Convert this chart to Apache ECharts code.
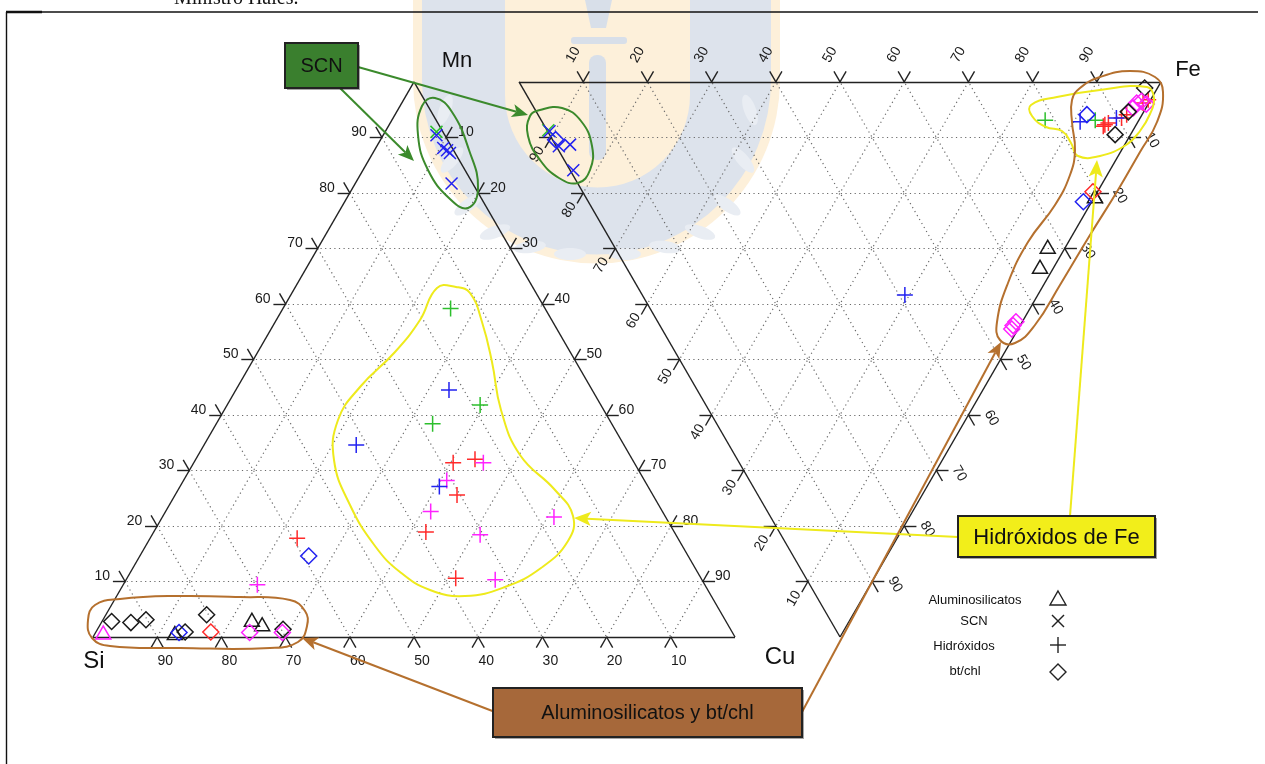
<!DOCTYPE html>
<html>
<head>
<meta charset="utf-8">
<script src="https://cdn.jsdelivr.net/npm/echarts@6/dist/echarts.min.js"></script>
<style>
  html, body { margin: 0; padding: 0; background: #fff; }
  #chart { width: 1265px; height: 764px; }
</style>
</head>
<body>
<div id="chart"></div>
<script>
const tickValues = [10, 20, 30, 40, 50, 60, 70, 80, 90];

// triangulo Si - Mn - Cu : [Si, Mn, Cu, color]
const siMnCuAlumino = [
  [98.0, 0.8, 1.2, "m"], [86.9, 0.7, 12.4, "k"], [73.7, 3.1, 23.2, "k"], [72.5, 2.3, 25.2, "k"]
];
const siMnCuSCN = [
  [1.0, 91.0, 8.0, "g"], [1.3, 90.4, 8.3, "b"], [1.4, 88.1, 10.5, "b"],
  [1.0, 87.7, 11.3, "b"], [0.8, 87.2, 12.0, "b"], [3.3, 81.7, 15.0, "b"]
];
const siMnCuHidroxidos = [
  [14.7, 59.2, 26.1, "g"], [22.3, 44.5, 33.2, "b"], [18.8, 41.8, 39.4, "g"], [27.9, 38.4, 33.7, "g"],
  [28.2, 31.4, 40.4, "r"], [24.5, 32.0, 43.5, "r"], [23.5, 31.4, 45.1, "m"], [30.8, 28.2, 41.0, "m"],
  [32.5, 27.1, 40.4, "b"], [30.5, 25.6, 43.9, "r"], [36.1, 22.6, 41.3, "m"], [38.7, 18.9, 42.4, "r"],
  [30.5, 18.4, 51.1, "m"], [17.4, 21.6, 61.0, "m"], [38.2, 10.6, 51.2, "r"], [32.2, 10.3, 57.5, "m"],
  [41.7, 34.6, 23.7, "b"], [59.3, 17.8, 22.9, "r"], [69.7, 9.4, 20.9, "m"]
];
const siMnCuBtChl = [
  [59.1, 14.6, 26.3, "b"], [95.7, 2.8, 1.5, "k"], [92.8, 2.6, 4.6, "k"], [90.2, 3.1, 6.7, "k"],
  [86.2, 0.8, 13.0, "b"], [85.2, 0.9, 13.9, "k"], [80.3, 4.0, 15.7, "k"], [81.2, 0.9, 17.9, "r"],
  [75.2, 0.8, 24.0, "m"], [69.7, 1.4, 28.9, "k"], [70.1, 0.8, 29.1, "m"]
];

// triangulo Mn - Fe - Cu : [Mn, Fe, Cu, color]
const mnFeCuAlumino = [
  [0.0, 79.4, 20.6, "k"], [2.8, 67.5, 29.7, "k"], [2.2, 64.5, 33.3, "k"]
];
const mnFeCuSCN = [
  [91.1, 0.2, 8.7, "g"], [90.8, 0.3, 8.9, "b"], [88.0, 0.4, 11.6, "b"],
  [86.4, 2.3, 11.3, "b"], [83.6, 0.5, 15.9, "b"]
];
const mnFeCuHidroxidos = [
  [0.4, 96.4, 3.2, "r"], [0.9, 95.3, 3.8, "r"], [2.4, 91.7, 5.9, "r"], [2.9, 90.6, 6.5, "r"],
  [4.5, 88.1, 7.4, "r"], [4.9, 87.4, 7.7, "r"], [5.0, 87.0, 8.0, "r"], [3.7, 89.8, 6.5, "b"],
  [9.0, 83.8, 7.2, "b"], [6.8, 86.3, 6.9, "g"], [14.6, 78.5, 6.9, "g"], [20.7, 40.9, 38.4, "b"]
];
const mnFeCuBtChl = [
  [89.1, 0.5, 10.4, "b"], [2.0, 96.9, 1.1, "k"], [1.9, 94.3, 3.8, "m"], [1.3, 95.2, 3.5, "m"],
  [2.0, 93.3, 4.7, "m"], [0.3, 95.7, 4.0, "m"], [2.4, 92.2, 5.4, "k"], [8.6, 85.5, 5.9, "b"],
  [2.4, 88.1, 9.5, "k"], [0.7, 79.5, 19.8, "r"], [1.3, 77.1, 21.6, "b"],
  [1.0, 55.8, 43.2, "m"], [1.1, 55.0, 43.9, "m"], [1.0, 54.5, 44.5, "m"]
];

const colors = { r: "#ff2a2a", m: "#ff22ff", b: "#2222f0", g: "#2dbf2d", k: "#1a1a1a" };

// geometria: vertices en unidades del eje (lado = 100)
const T1 = [[0, 0], [50, 86.6], [100, 0]];              // Si, Mn, Cu
const T2 = [[66.36, 86.6], [166.36, 86.6], [116.36, 0]]; // Mn, Fe, Cu
const PX = 6.42, PY = 6.41;

function tern(T, p) {
  const s = p[0] + p[1] + p[2];
  return [
    (p[0] * T[0][0] + p[1] * T[1][0] + p[2] * T[2][0]) / s,
    (p[0] * T[0][1] + p[1] * T[1][1] + p[2] * T[2][1]) / s
  ];
}

function gridSegs(T) {
  const segs = [];
  tickValues.forEach(k => {
    for (let i = 0; i < 3; i++) {
      const a = [0, 0, 0], b = [0, 0, 0];
      a[i] = k; a[(i + 1) % 3] = 100 - k;
      b[i] = k; b[(i + 2) % 3] = 100 - k;
      segs.push({ coords: [tern(T, a), tern(T, b)] });
    }
  });
  return segs;
}

function edgeSegs(T) {
  return [[T[0], T[1]], [T[1], T[2]], [T[2], T[0]]].map(c => ({ coords: c }));
}

// marcas: prolongacion de las dos lineas de la grilla que llegan al borde
function tickSegs(T, comps) {
  const segs = [];
  tickValues.forEach(v => {
    const p = comps(v);
    const z = p.indexOf(0);
    const P = tern(T, p);
    [0, 1, 2].filter(i => i !== z).forEach(i => {
      const j = [0, 1, 2].find(n => n !== z && n !== i);
      const q = [0, 0, 0];
      q[i] = p[i]; q[z] = p[j];
      const Q = tern(T, q);
      const dx = P[0] - Q[0], dy = P[1] - Q[1], L = Math.hypot(dx, dy);
      segs.push({ coords: [P, [P[0] + 1.9 * dx / L, P[1] + 1.9 * dy / L]] });
    });
  });
  return segs;
}

function tickLabels(T, comps, dx, dy, align, rotate) {
  return {
    type: "scatter", symbolSize: 1, silent: true, z: 5,
    itemStyle: { color: "rgba(0,0,0,0)" },
    data: tickValues.map(v => {
      const P = tern(T, comps(v));
      return [P[0] + dx / PX, P[1] - dy / PY, v];
    }),
    label: {
      show: true, position: "inside", align: align, verticalAlign: "middle", rotate: rotate,
      formatter: p => String(p.value[2]),
      fontFamily: "Liberation Sans", fontSize: 14, color: "#1a1a1a", opacity: 1
    }
  };
}

const edges1 = {
  left: v => [100 - v, v, 0], bottom: v => [v, 0, 100 - v], right: v => [0, 100 - v, v]
};
const edges2 = {
  top: v => [100 - v, v, 0], left: v => [v, 0, 100 - v], right: v => [0, 100 - v, v]
};

const PLUS = "path://M0,8L16,8M8,0L8,16";
const CROSS = "path://M0,0L12,12M12,0L0,12";

function markSeries(T, rows, symbol, size) {
  return {
    type: "scatter", symbol: symbol, symbolSize: size, silent: true, z: 10,
    itemStyle: { color: "rgba(0,0,0,0)", borderWidth: 1.5, opacity: 1 },
    data: rows.map(r => ({ value: tern(T, r), itemStyle: { borderColor: colors[r[3]] } }))
  };
}

const dotted = { type: [1.2, 3.4], color: "#6a6a6a", width: 1.2, opacity: 1 };
const solid = { type: "solid", color: "#222", width: 1.4, opacity: 1 };

// anotaciones (pixeles)
function arrow(x1, y1, x2, y2, color, w, head) {
  const dx = x2 - x1, dy = y2 - y1, L = Math.hypot(dx, dy), ux = dx / L, uy = dy / L;
  const hl = head || 15, hw = hl * 0.42;
  const bx = x2 - ux * hl, by = y2 - uy * hl;
  return [
    { type: "line", z: 60, shape: { x1: x1, y1: y1, x2: bx + ux * 4, y2: by + uy * 4 }, style: { stroke: color, lineWidth: w } },
    { type: "polygon", z: 60, shape: { points: [[x2, y2], [bx - uy * hw, by + ux * hw], [bx + ux * 4, by + uy * 4], [bx + uy * hw, by - ux * hw]] }, style: { fill: color } }
  ];
}
function blob(points, color) {
  return { type: "polygon", z: 55, shape: { points: points, smooth: 0.45 }, style: { fill: "none", stroke: color, lineWidth: 2 } };
}
function box(x, y, w, h, fill, text, size) {
  return [
    { type: "rect", z: 70, shape: { x: x + 2, y: y + 2, width: w, height: h }, style: { fill: "rgba(0,0,0,0.35)" } },
    { type: "rect", z: 71, shape: { x: x, y: y, width: w, height: h }, style: { fill: fill, stroke: "#222", lineWidth: 2 } },
    { type: "text", z: 72, style: { text: text, x: x + w / 2, y: y + h / 2 + 1, align: "center", verticalAlign: "middle", font: size + "px 'Liberation Sans'", fill: "#111" } }
  ];
}
function txt(text, x, y, size, align) {
  return { type: "text", z: 20, style: { text: text, x: x, y: y, align: align || "center", verticalAlign: "middle", font: size + "px 'Liberation Sans'", fill: "#111" } };
}

const GREEN = "#3b8a2c", YELLOW = "#eeea1c", BROWN = "#b5702e";

const watermark = [
  { type: "rect", z: -5, shape: { x: 413, y: -20, width: 367, height: 100 }, style: { fill: "#fdf0da" } },
  { type: "circle", z: -5, shape: { cx: 596.5, cy: 80, r: 183.5 }, style: { fill: "#fdf0da" } },
  { type: "rect", z: -4, shape: { x: 422, y: -20, width: 349, height: 100 }, style: { fill: "#dde3ec" } },
  { type: "circle", z: -4, shape: { cx: 596.5, cy: 80, r: 174.5 }, style: { fill: "#dde3ec" } },
  { type: "rect", z: -3, shape: { x: 505, y: -20, width: 185, height: 115 }, style: { fill: "#fdf0da" } },
  { type: "circle", z: -3, shape: { cx: 597.5, cy: 95, r: 92.5 }, style: { fill: "#fdf0da" } },
  { type: "rect", z: -2, shape: { x: 589, y: 55, width: 17, height: 105, r: 8 }, style: { fill: "#d8dfe9" } },
  { type: "rect", z: -2, shape: { x: 571, y: 37, width: 56, height: 7, r: 3 }, style: { fill: "#d8dfe9" } },
  { type: "polygon", z: -2, shape: { points: [[585, 0], [612, 0], [606, 28], [591, 28]] }, style: { fill: "#d8dfe9" } }
];
const leafSpots = [
  [445, 110, 70], [452, 160, 50], [468, 205, 35], [495, 232, 20], [530, 247, 8], [570, 254, 0],
  [625, 254, 0], [665, 247, -8], [700, 232, -20], [727, 205, -35], [743, 160, -50], [750, 110, -70]
];
leafSpots.forEach(l => watermark.push({
  type: "ellipse", z: -3, rotation: l[2] * Math.PI / 180, x: l[0], y: l[1],
  shape: { cx: 0, cy: 0, rx: 16, ry: 6 }, style: { fill: "#e9edf3" }
}));

const graphics = [].concat(
  watermark,
  [
    { type: "text", z: 20, style: { text: "Ministro Hales.", x: 174, y: 9, align: "left", verticalAlign: "bottom", font: "20px 'Liberation Serif'", fill: "#111" } },
    { type: "line", z: 20, shape: { x1: 6, y1: 12, x2: 1258, y2: 12 }, style: { stroke: "#111", lineWidth: 1.4 } },
    { type: "line", z: 20, shape: { x1: 6, y1: 12, x2: 42, y2: 12 }, style: { stroke: "#111", lineWidth: 2.6 } },
    { type: "line", z: 20, shape: { x1: 6.5, y1: 12, x2: 6.5, y2: 764 }, style: { stroke: "#111", lineWidth: 1.4 } },
    txt("Mn", 457, 61, 22), txt("Si", 94, 661, 24), txt("Cu", 780, 657, 24), txt("Fe", 1188, 70, 22),
    blob([[435, 98], [452, 112], [469, 150], [478, 188], [468, 208], [450, 199], [428, 170], [418, 135], [422, 106]], GREEN),
    blob([[540, 110], [562, 108], [581, 121], [592, 146], [590, 170], [578, 183], [559, 178], [540, 160], [528, 136], [530, 116]], GREEN),
    blob([[437, 288], [456, 287], [470, 293], [482, 322], [492, 362], [501, 410], [520, 455], [555, 490], [573, 516], [568, 541], [541, 568], [505, 587], [465, 596], [430, 590], [400, 572], [375, 546], [350, 505], [334, 460], [338, 420], [360, 387], [395, 352], [420, 320]], YELLOW),
    blob([[1031, 105], [1057, 97], [1100, 90], [1147, 87], [1154, 98], [1150, 114], [1140, 131], [1126, 145], [1100, 156], [1078, 156], [1071, 143], [1062, 131], [1046, 127], [1032, 116]], YELLOW),
    blob([[1080, 88], [1100, 77], [1130, 71], [1155, 77], [1163, 92], [1157, 122], [1140, 152], [1118, 190], [1090, 235], [1060, 285], [1035, 325], [1015, 343], [1000, 340], [997, 322], [1008, 283], [1028, 242], [1055, 205], [1070, 175], [1075, 150], [1072, 122], [1072, 100]], BROWN),
    blob([[88, 620], [95, 605], [120, 599], [175, 596], [240, 597], [290, 600], [305, 611], [307, 626], [298, 642], [270, 648], [180, 648], [110, 646], [92, 638]], BROWN)
  ],
  arrow(358, 67, 528, 115, GREEN, 2, 16),
  arrow(340, 88, 414, 161, GREEN, 2, 16),
  arrow(958, 537, 574, 518, YELLOW, 2, 17),
  arrow(1070, 516, 1097, 160, YELLOW, 2, 17),
  arrow(495, 712, 302, 638, BROWN, 2, 16),
  arrow(802, 712, 1001, 342, BROWN, 2, 16),
  box(285, 43, 73, 45, "#3a7f2e", "SCN", 20),
  box(958, 516, 197, 41, "#f2ee1a", "Hidróxidos de Fe", 22),
  box(493, 688, 309, 49, "#a6683a", "Aluminosilicatos y bt/chl", 20),
  [
    txt("Aluminosilicatos", 975, 600, 13), txt("SCN", 974, 621, 13),
    txt("Hidróxidos", 964, 646, 13), txt("bt/chl", 965, 671, 13),
    { type: "polygon", z: 20, shape: { points: [[1058, 591], [1066, 605], [1050, 605]] }, style: { fill: "none", stroke: "#222", lineWidth: 1.4 } },
    { type: "line", z: 20, shape: { x1: 1052, y1: 615, x2: 1064, y2: 627 }, style: { stroke: "#222", lineWidth: 1.4 } },
    { type: "line", z: 20, shape: { x1: 1064, y1: 615, x2: 1052, y2: 627 }, style: { stroke: "#222", lineWidth: 1.4 } },
    { type: "line", z: 20, shape: { x1: 1050, y1: 645, x2: 1066, y2: 645 }, style: { stroke: "#222", lineWidth: 1.4 } },
    { type: "line", z: 20, shape: { x1: 1058, y1: 637, x2: 1058, y2: 653 }, style: { stroke: "#222", lineWidth: 1.4 } },
    { type: "polygon", z: 20, shape: { points: [[1058, 664], [1066, 672], [1058, 680], [1050, 672]] }, style: { fill: "none", stroke: "#222", lineWidth: 1.4 } }
  ]
);

const chart = echarts.init(document.getElementById("chart"));
chart.setOption({
  animation: false,
  backgroundColor: "#fff",
  grid: { left: 0, right: 0, top: 0, bottom: 0 },
  xAxis: { type: "value", min: -93 / PX, max: (1265 - 93) / PX, show: false },
  yAxis: { type: "value", min: -(764 - 637) / PY, max: 637 / PY, show: false },
  graphic: { elements: graphics },
  series: [
    { type: "lines", coordinateSystem: "cartesian2d", silent: true, z: 1, lineStyle: dotted, data: gridSegs(T1).concat(gridSegs(T2)) },
    { type: "lines", coordinateSystem: "cartesian2d", silent: true, z: 3, lineStyle: solid, data: edgeSegs(T1).concat(edgeSegs(T2)) },
    {
      type: "lines", coordinateSystem: "cartesian2d", silent: true, z: 3, lineStyle: solid,
      data: [].concat(
        tickSegs(T1, edges1.left), tickSegs(T1, edges1.bottom), tickSegs(T1, edges1.right),
        tickSegs(T2, edges2.top), tickSegs(T2, edges2.left), tickSegs(T2, edges2.right))
    },
    tickLabels(T1, edges1.left, -15, -5, "right", 0),
    tickLabels(T1, edges1.bottom, 8, 24, "center", 0),
    tickLabels(T1, edges1.right, 12, -5, "left", 0),
    tickLabels(T2, edges2.top, -10, -27, "center", 60),
    tickLabels(T2, edges2.left, -14, 17, "center", 60),
    tickLabels(T2, edges2.right, 23, 3, "center", -60),
    markSeries(T1, siMnCuAlumino, "triangle", [15, 13]),
    markSeries(T1, siMnCuSCN, CROSS, 12),
    markSeries(T1, siMnCuHidroxidos, PLUS, 16),
    markSeries(T1, siMnCuBtChl, "diamond", 16),
    markSeries(T2, mnFeCuAlumino, "triangle", [15, 13]),
    markSeries(T2, mnFeCuSCN, CROSS, 12),
    markSeries(T2, mnFeCuHidroxidos, PLUS, 16),
    markSeries(T2, mnFeCuBtChl, "diamond", 16)
  ]
});
</script>
</body>
</html>
